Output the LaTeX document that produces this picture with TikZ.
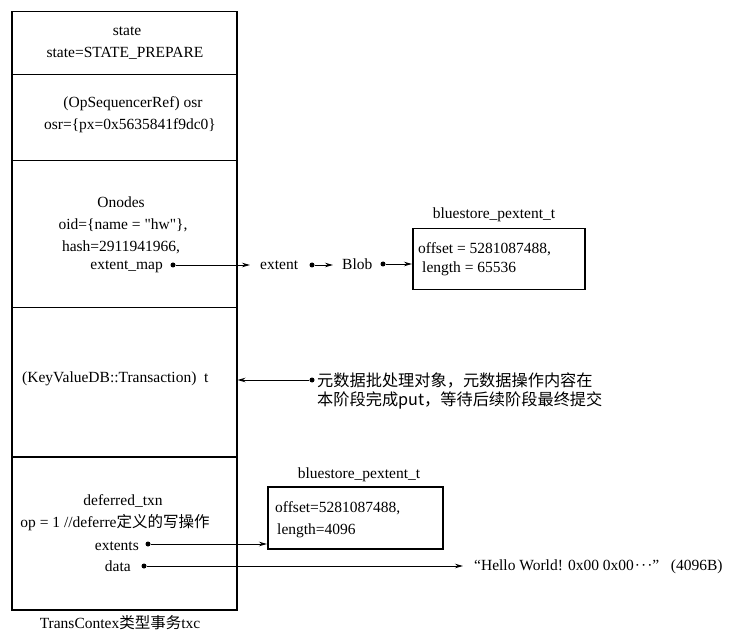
\documentclass[tikz,border=0pt]{standalone}
\usepackage{fontspec}
\setmainfont{Liberation Serif}
\newfontfamily\cjk{Noto Sans CJK SC}
\usetikzlibrary{arrows.meta}
\begin{document}
\begin{tikzpicture}[x=1pt,y=-1pt,
  every node/.style={font=\fontsize{15.5}{20}\selectfont, inner sep=0pt},
  lbl/.style={anchor=base},
  lw/.style={anchor=base west},
  le/.style={anchor=base east},
  sect/.style={draw, line width=1.5pt, anchor=north west, minimum width=225pt},
  box/.style={draw, line width=1.5pt, anchor=north west},
  ptr/.style={line width=0.9pt, -{Stealth[length=8pt,width=4.5pt]}},
  dotc/.style={circle, fill, minimum size=5pt, inner sep=0pt},
  zh/.style={font=\cjk\fontsize{16.2}{20}\selectfont},
]
\path[use as bounding box] (0,0) rectangle (729,639);

% left big box sections
\node[sect, minimum height=63pt]  (s1) at (11,11)  {};
\node[sect, minimum height=86pt]  (s2) at (11,74)  {};
\node[sect, minimum height=147pt] (s3) at (11,160) {};
\node[sect, minimum height=149pt] (s4) at (11,307) {};
\node[sect, minimum height=153pt] (s5) at (11,456) {};

% section 1
\node[lbl] (t1) at (127,36) {state};
\node[lbl] (t2) at (125,58) {state=STATE\_PREPARE};
% section 2
\node[lbl] (t3) at (133,108) {(OpSequencerRef) osr};
\node[lbl] (t4) at (130,130) {osr=\{px=0x5635841f9dc0\}};
% section 3
\node[lbl] (t5) at (121,208) {Onodes};
\node[lbl] (t6) at (123,230) {oid=\{name = \textquotedbl hw\textquotedbl\},};
\node[lbl] (t7) at (121,252) {hash=2911941966,};
\node[le]  (t8) at (163,270) {extent\_map};
\node[dotc] (d1) at (173,265) {};
\node[lw] (ext) at (260,270) {extent};
\node[dotc] (d2) at (312,265) {};
\node[lw] (blob) at (342,270) {Blob};
\node[dotc] (d3) at (383,264) {};

\node[lbl] (bt1) at (494,219) {bluestore\_pextent\_t};
\node[box, minimum width=172pt, minimum height=61pt] (b1) at (412,228) {};
\node[lw] (b1a) at (418,254) {offset = 5281087488,};
\node[lw] (b1b) at (422,273) {length = 65536};

\draw[ptr, shorten >=10pt] (d1) -- (d1 -| ext.west);
\draw[ptr, shorten >=9pt] (d2) -- (d2 -| blob.west);
\draw[ptr] (d3) -- (d3 -| b1.west);

% section 4
\node[lw] (kv) at (22,382) {(KeyValueDB::Transaction)\ \ t};
\node[dotc] (d4) at (312,380) {};
\node[lw, zh] (zh1) at (317,386) {元数据批处理对象，元数据操作内容在};
\node[lw, zh] (zh2) at (317,406) {本阶段完成put，等待后续阶段最终提交};
\draw[ptr] (d4) -- (d4 -| s4.east);

% section 5
\node[lbl] (t9)  at (123,505) {deferred\_txn};
\node[lbl] (t10) at (115,527) {op = 1 //deferre{\cjk 定义的写操作}};
\node[le]  (t11) at (139,550) {extents};
\node[dotc] (d5) at (148,544) {};
\node[le]  (t12) at (131,571) {data};
\node[dotc] (d6) at (144,566) {};

\node[lbl] (bt2) at (359,478) {bluestore\_pextent\_t};
\node[box, minimum width=175pt, minimum height=62pt] (b2) at (267,486) {};
\node[lw] (b2a) at (275,512) {offset=5281087488,};
\node[lw] (b2b) at (277,534) {length=4096};
\draw[ptr] (d5) -- (d5 -| b2.west);

\node[lw] (hello) at (474,570) {“Hello World! 0x00 0x00\kern1pt\textperiodcentered\kern1pt\textperiodcentered\kern1pt\textperiodcentered”\ \ \ (4096B)};
\draw[ptr, shorten >=11pt] (d6) -- (d6 -| hello.west);

% caption
\node[lbl] (cap) at (120,628) {TransContex{\cjk 类型事务}txc};
\end{tikzpicture}
\end{document}
